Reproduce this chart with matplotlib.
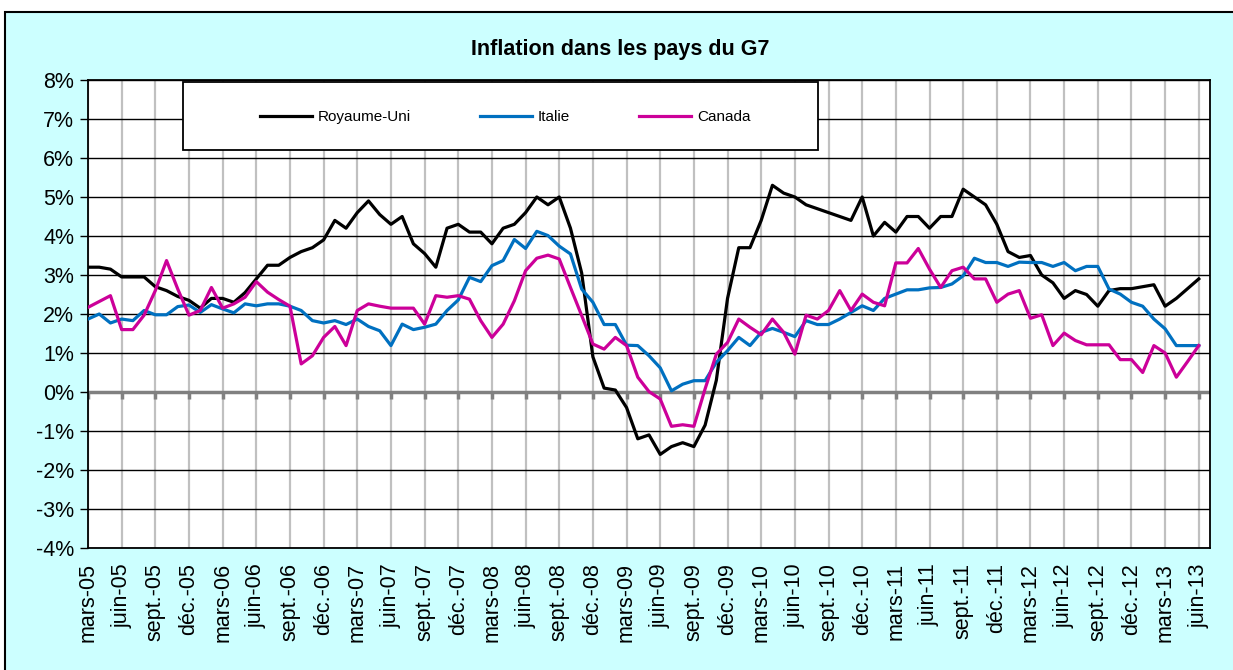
import numpy as np
import matplotlib
matplotlib.use("Agg")
import matplotlib.pyplot as plt
from matplotlib.patches import Rectangle
from matplotlib.ticker import FuncFormatter

plt.rcParams['font.family'] = ['Liberation Sans', 'DejaVu Sans']

# ------------------------------------------------------------------
# Data: monthly inflation (%), mars-05 .. juin-13 (100 months)
# ------------------------------------------------------------------
royaume_uni = [
    3.2, 3.2, 3.15, 2.95, 2.95, 2.95, 2.7, 2.6, 2.45, 2.35,
    2.15, 2.4, 2.4, 2.3, 2.55, 2.9, 3.25, 3.25, 3.45, 3.6,
    3.7, 3.9, 4.4, 4.2, 4.6, 4.9, 4.55, 4.3, 4.5, 3.8,
    3.55, 3.2, 4.2, 4.3, 4.1, 4.1, 3.8, 4.2, 4.3, 4.6,
    5.0, 4.8, 5.0, 4.2, 3.05, 0.9, 0.1, 0.05, -0.4, -1.2,
    -1.1, -1.6, -1.4, -1.3, -1.4, -0.85, 0.3, 2.4, 3.7, 3.7,
    4.4, 5.3, 5.1, 5.0, 4.8, 4.7, 4.6, 4.5, 4.4, 5.0,
    4.0, 4.35, 4.1, 4.5, 4.5, 4.2, 4.5, 4.5, 5.2, 5.0,
    4.8, 4.3, 3.6, 3.45, 3.5, 3.0, 2.8, 2.4, 2.6, 2.5,
    2.2, 2.6, 2.65, 2.65, 2.7, 2.75, 2.2, 2.4, 2.65, 2.9,
]

italie = [
    1.87, 2.0, 1.77, 1.87, 1.83, 2.09, 1.98, 1.98, 2.19, 2.23,
    2.04, 2.24, 2.13, 2.03, 2.26, 2.21, 2.26, 2.26, 2.2, 2.09,
    1.83, 1.77, 1.83, 1.73, 1.87, 1.68, 1.57, 1.19, 1.74, 1.6,
    1.66, 1.74, 2.09, 2.36, 2.94, 2.83, 3.24, 3.37, 3.91, 3.68,
    4.12, 4.01, 3.74, 3.54, 2.64, 2.3, 1.73, 1.73, 1.2, 1.19,
    0.93, 0.62, 0.03, 0.2, 0.29, 0.29, 0.76, 1.06, 1.4, 1.19,
    1.53, 1.63, 1.53, 1.42, 1.83, 1.73, 1.73, 1.87, 2.04, 2.21,
    2.09, 2.4, 2.51, 2.62, 2.62, 2.67, 2.68, 2.77, 2.98, 3.43,
    3.32, 3.32, 3.22, 3.33, 3.32, 3.32, 3.22, 3.32, 3.11, 3.22,
    3.22, 2.64, 2.51, 2.3, 2.2, 1.87, 1.62, 1.19, 1.19, 1.19,
]

canada = [
    2.17, 2.32, 2.47, 1.6, 1.6, 1.97, 2.6, 3.37, 2.64, 1.97,
    2.09, 2.68, 2.15, 2.26, 2.43, 2.83, 2.56, 2.37, 2.2, 0.72,
    0.93, 1.4, 1.68, 1.19, 2.09, 2.26, 2.2, 2.15, 2.15, 2.15,
    1.74, 2.47, 2.43, 2.47, 2.38, 1.83, 1.4, 1.74, 2.34, 3.11,
    3.43, 3.51, 3.41, 2.68, 1.96, 1.23, 1.1, 1.4, 1.19, 0.38,
    0.01, -0.18, -0.88, -0.84, -0.88, 0.08, 0.97, 1.27, 1.87, 1.66,
    1.47, 1.87, 1.53, 0.97, 1.97, 1.87, 2.09, 2.6, 2.09, 2.51,
    2.3, 2.21, 3.31, 3.31, 3.68, 3.15, 2.68, 3.11, 3.2, 2.9,
    2.9, 2.3, 2.51, 2.6, 1.89, 1.98, 1.19, 1.51, 1.32, 1.21,
    1.21, 1.21, 0.83, 0.83, 0.5, 1.19, 1.0, 0.38, 0.78, 1.19,
]

tick_labels = [
    'mars-05', 'juin-05', 'sept.-05', 'déc.-05',
    'mars-06', 'juin-06', 'sept.-06', 'déc.-06',
    'mars-07', 'juin-07', 'sept.-07', 'déc.-07',
    'mars-08', 'juin-08', 'sept.-08', 'déc.-08',
    'mars-09', 'juin-09', 'sept.-09', 'déc.-09',
    'mars-10', 'juin-10', 'sept.-10', 'déc.-10',
    'mars-11', 'juin-11', 'sept.-11', 'déc.-11',
    'mars-12', 'juin-12', 'sept.-12', 'déc.-12',
    'mars-13', 'juin-13',
]

series_names = ['Royaume-Uni', 'Italie', 'Canada']
series_colors = ['black', '#0070C0', '#CC0099']

# ------------------------------------------------------------------
# Figure
# ------------------------------------------------------------------
W, H = 1233, 670
fig = plt.figure(figsize=(W / 100, H / 100), dpi=100)
fig.patch.set_facecolor('white')

# chart area (light cyan with black border)
bg = Rectangle((5 / W, -0.05), 1.1, 1 - 12 / H + 0.05, transform=fig.transFigure,
               facecolor='#CCFFFF', edgecolor='black', linewidth=1.5, zorder=-10)
fig.patches.append(bg)

ax = fig.add_axes([88 / W, 122 / H, 1122 / W, 468 / H])
ax.set_facecolor('white')

x = np.arange(len(royaume_uni))
for values, name, color in zip([royaume_uni, italie, canada], series_names, series_colors):
    ax.plot(x, values, color=color, lw=2.3, label=name,
            solid_joinstyle='round', zorder=3)

ax.set_xlim(0, 100)
ax.set_ylim(-4, 8)
ax.set_yticks(range(-4, 9))
ax.yaxis.set_major_formatter(FuncFormatter(lambda v, p: f'{v:.0f}%'))

tick_pos = np.arange(0, len(royaume_uni), 3)
ax.set_xticks(tick_pos)
ax.set_xticklabels(tick_labels, rotation=90)
ax.tick_params(axis='x', length=0, pad=11, labelsize=15.5)
ax.tick_params(axis='y', length=6, width=1, direction='out', pad=4, labelsize=15.5)

ax.set_axisbelow(True)
ax.grid(axis='y', color='black', lw=1.0)
ax.grid(axis='x', color='#C0C0C0', lw=1.6)

# zero line with its tick marks
ax.axhline(0, color='#808080', lw=2.5, zorder=2)
ax.plot(tick_pos, np.zeros(len(tick_pos)), ls='none', marker=3, ms=5, mew=2.5,
        color='#808080', zorder=2)

for sp in ax.spines.values():
    sp.set_color('black')
    sp.set_linewidth(1.3)

# legend box
ax.add_patch(Rectangle((0.0847, 0.8504), 0.5659, 0.1453, transform=ax.transAxes,
                       facecolor='white', edgecolor='black', lw=1.3,
                       zorder=10, clip_on=False))
leg = ax.legend(loc='center', bbox_to_anchor=(0.372, 0.921), ncol=3, frameon=False,
                fontsize=11, handlelength=3.4, handletextpad=0.4, columnspacing=4.5)
leg.set_zorder(11)

fig.text(620 / W, 1 - 49 / H, 'Inflation dans les pays du G7', ha='center',
         va='center', fontsize=15.5, fontweight='bold')

fig.savefig('out.png', dpi=100, facecolor=fig.get_facecolor())
